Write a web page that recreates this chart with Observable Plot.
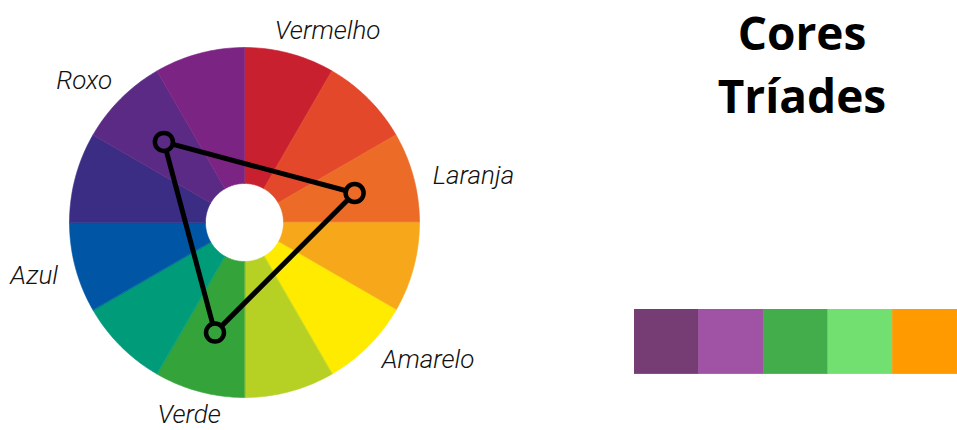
<!DOCTYPE html>
<html>
<head>
<meta charset="utf-8">
<script src="https://cdn.jsdelivr.net/npm/d3@7"></script>
<script src="https://cdn.jsdelivr.net/npm/@observablehq/plot@0.6"></script>
<style>
  html, body { margin: 0; padding: 0; background: #fff; overflow: hidden; }
  #root { position: relative; width: 957px; height: 430px; overflow: hidden; }
  #wheel { position: absolute; left: 0; top: 0; }
  #title { position: absolute; left: 642px; top: 1px; width: 320px; text-align: center;
           font-family: "Open Sans", "Noto Sans", sans-serif; font-weight: 700; font-size: 46px;
           color: #000; }
  #title .l1 { line-height: 63px; }
  #title .l2 { line-height: 62px; }
  #swatches { position: absolute; left: 634px; top: 309px; }
</style>
</head>
<body>
<div id="root">
  <div id="wheel"></div>
  <div id="title"><div class="l1">Cores</div><div class="l2">Tríades</div></div>
  <div id="swatches"></div>
</div>
<script>
// ---- data ----
const wheelColors = ["#C8202F", "#E4482A", "#EB6B27", "#F6A81A", "#FEEB00", "#B6D024",
                     "#34A43A", "#009C7A", "#0055A5", "#3B2C84", "#5A2A85", "#7C2483"];
const labelNames = ["Vermelho", "Laranja", "Amarelo", "Verde", "Azul", "Roxo"];
const labelAngles = [9, 76, 135, 187, 254, 317];
const triadAngles = [315, 75, 195];
const swatchNames = ["s1", "s2", "s3", "s4", "s5"];
const swatchColors = ["#763C74", "#A053A4", "#43AC4B", "#71E070", "#FF9A00"];

// ---- layout constants ----
const R = 175, r0 = 39, triadR = 114, labelR = 194;
const rad = a => a * Math.PI / 180;
const px = (a, r) => r * Math.sin(rad(a));
const py = (a, r) => r * Math.cos(rad(a));

const step = 360 / wheelColors.length;
const wedgePts = [];
wheelColors.forEach((c, i) => {
  const a0 = i * step, a1 = (i + 1) * step, N = 24;
  for (let k = 0; k <= N; k++) { const a = a0 + (a1 - a0) * k / N; wedgePts.push({seg: i, color: c, x: px(a, R), y: py(a, R)}); }
  for (let k = N; k >= 0; k--) { const a = a0 + (a1 - a0) * k / N; wedgePts.push({seg: i, color: c, x: px(a, r0), y: py(a, r0)}); }
});

const triad = triadAngles.map(a => ({x: px(a, triadR), y: py(a, triadR), color: wheelColors[Math.floor(a / step)]}));
const labels = labelNames.map((t, i) => ({text: t, a: labelAngles[i], x: px(labelAngles[i], labelR), y: py(labelAngles[i], labelR)}));
const labelFont = {fontSize: 26, fontStyle: "italic", fontWeight: 300, fontFamily: "Roboto, sans-serif", fill: "#111"};

const wheel = Plot.plot({
  width: 540, height: 430,
  margin: 0,
  x: {domain: [-244, 296], axis: null},
  y: {domain: [-208, 222], axis: null},
  color: {type: "identity"},
  marks: [
    Plot.line(wedgePts, {x: "x", y: "y", z: "seg", fill: "color", stroke: "color", strokeWidth: 0.6, curve: "linear-closed"}),
    Plot.line(triad, {x: "x", y: "y", curve: "linear-closed", stroke: "#000", strokeWidth: 5, strokeLinejoin: "round"}),
    Plot.dot(triad, {x: "x", y: "y", r: 9, fill: "color", stroke: "#000", strokeWidth: 4.5}),
    Plot.text(labels.filter(d => Math.sin(rad(d.a)) >= 0), {x: "x", y: "y", text: "text", textAnchor: "start", ...labelFont}),
    Plot.text(labels.filter(d => Math.sin(rad(d.a)) < 0), {x: "x", y: "y", text: "text", textAnchor: "end", ...labelFont})
  ]
});
document.getElementById("wheel").appendChild(wheel);

const sw = Plot.plot({
  width: 334, height: 67,
  margin: 0,
  x: {domain: swatchNames, padding: 0, round: false, axis: null},
  color: {type: "identity"},
  marks: [
    Plot.cell(swatchNames, {x: d => d, fill: (d, i) => swatchColors[i], stroke: (d, i) => swatchColors[i], strokeWidth: 0.5, inset: 0})
  ]
});
document.getElementById("swatches").appendChild(sw);
</script>
</body>
</html>
